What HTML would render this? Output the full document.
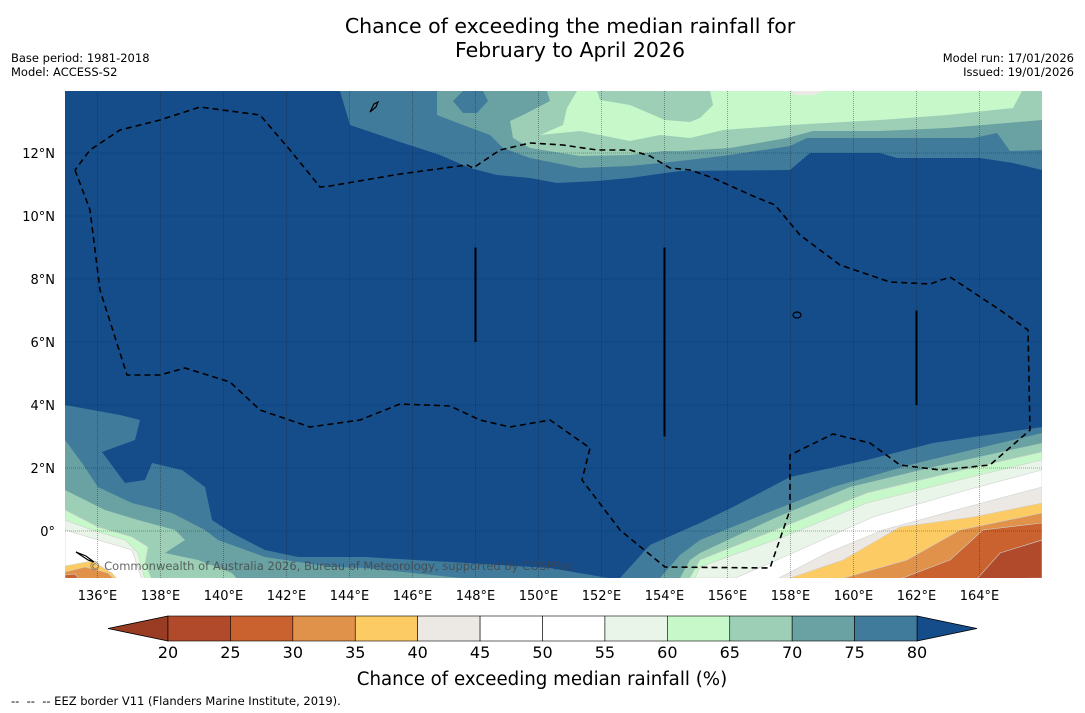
<!DOCTYPE html>
<html><head><meta charset="utf-8">
<style>
body{margin:0;background:#fff;font-family:"DejaVu Sans","Liberation Sans",sans-serif;}
#wrap{position:relative;width:1085px;height:713px;overflow:hidden;background:#fff}
.t{position:absolute;white-space:nowrap;color:#000}
</style></head><body>
<div id="wrap">
<div class="t" style="left:170px;width:800px;top:15px;text-align:center;font-size:20.5px;line-height:23.5px">Chance of exceeding the median rainfall for<br>February to April 2026</div>
<div class="t" style="left:11px;top:51px;font-size:11.5px;line-height:14px">Base period: 1981-2018<br>Model: ACCESS-S2</div>
<div class="t" style="right:11px;top:51px;font-size:11.5px;line-height:14px;text-align:right">Model run: 17/01/2026<br>Issued: 19/01/2026</div>
<div class="t" style="left:11px;top:694px;font-size:11.5px">--&nbsp; --&nbsp; -- EEZ border V11 (Flanders Marine Institute, 2019).</div>
<svg id="svg" width="1085" height="713" style="position:absolute;left:0;top:0"></svg>
</div>
<script>
const levels=[20,25,30,35,40,45,50,55,60,65,70,75,80];
const colors=["#b04a2a","#c9622f","#e0924a","#fdcb64","#ece9e4","#ffffff","#ffffff","#eaf5e9","#c6f8c9","#9dcfb7","#6aa1a2","#417b9b"];
const lowColor="#9a3c24", highColor="#154d8a";
const lonTicks=[136,138,140,142,144,146,148,150,152,154,156,158,160,162,164];
const latTicks=[0,2,4,6,8,10,12];
const FF='DejaVu Sans, Liberation Sans, sans-serif';
const NS="http://www.w3.org/2000/svg";
const svg=document.getElementById('svg');
const X=lon=>97.5+(lon-136)*31.5, Y=lat=>531-lat*31.5;
function mk(t,a,p){const e=document.createElementNS(NS,t);for(const k in a)e.setAttribute(k,a[k]);(p||svg).appendChild(e);return e;}
const P=a=>a.map(p=>p.join(',')).join(' ');
const defs=mk('defs',{});const cp=mk('clipPath',{id:'mc'},defs);mk('rect',{x:65,y:91,width:977,height:487},cp);
const g=mk('g',{'clip-path':'url(#mc)'});


mk('rect',{x:65,y:91,width:977,height:487,fill:highColor},g);
function poly(pts,col,name,stroke){const e=mk('polygon',{points:P(pts),fill:col,stroke:stroke||'none','stroke-width':0.6},g);

}
// top region
poly([[338,91],[340,91],[350,125],[397,141],[440,155],[470,168],[497,175],[530,178],[557,183],[597,181],[630,178],[680,171],[790,170],[810,153],[880,153],[897,158],[980,158],[1013,163],[1042,170],[1042,91]],colors[11],'contour-75-north');
poly([[437,91],[437,115],[463,125],[490,135],[503,148],[530,158],[580,168],[630,166],[680,161],[730,155],[790,146],[807,138],[853,138],[913,138],[973,138],[997,133],[1010,151],[1042,150],[1042,91]],colors[10],'contour-70-north');
poly([[453,101],[463,91],[483,91],[488,101],[477,113],[463,113]],colors[11],'contour-75-blob');
poly([[547,91],[550,101],[523,115],[510,121],[513,138],[530,148],[580,156],[630,155],[663,151],[680,151],[730,148],[787,138],[813,131],[880,131],[947,128],[1042,120],[1042,91]],colors[9],'contour-65-north');
poly([[577,91],[597,91],[600,100],[630,105],[665,120],[690,122],[700,118],[713,105],[710,91],[1022,91],[1013,108],[947,115],[880,120],[790,125],[723,130],[690,138],[660,135],[630,141],[580,131],[540,135],[563,125],[567,108]],colors[8],'contour-60-north');
poly([[790,91],[823,91],[815,95],[795,95]],colors[4],'contour-40-north');
// bottom right
const BR=[[1042,578]];
const br=[
 [[620,578],[650,545],[700,523],[733,507],[790,477],[867,460],[933,443],[1042,427]],
 [[660,578],[680,555],[700,540],[767,513],[833,487],[917,463],[1042,433]],
 [[680,578],[690,560],[700,553],[777,517],[850,487],[933,467],[1042,443]],
 [[690,578],[700,560],[783,527],[867,493],[950,473],[1042,452]],
 [[695,578],[700,567],[783,537],[867,503],[967,478],[1042,460]],
 [[733,579],[793,553],[873,517],[967,490],[1042,470]],
 [[777,579],[827,553],[883,530],[967,507],[1042,487]],
 [[787,579],[843,560],[900,527],[973,517],[1042,503]],
 [[840,579],[907,560],[960,530],[1042,513]],
 [[900,579],[950,560],[983,530],[1042,523]],
 [[977,579],[1000,553],[1042,540]]];
const brc=[11,10,9,8,7,5,4,3,2,1,0];
br.forEach((e,i)=>poly(e.concat(BR),colors[brc[i]],'contour-'+levels[brc[i]+1]+'-southeast',brc[i]<=8?'#cfcfcf':null));
// bottom left
const BL=[[65,578]];
const bl=[
 [[65,405],[120,415],[140,420],[135,440],[102,452],[125,483],[145,480],[152,463],[182,470],[205,487],[212,520],[232,533],[265,550],[298,557],[365,557],[450,562],[550,568],[620,580]],
 [[65,440],[82,463],[98,487],[132,503],[172,513],[205,530],[218,540],[265,557],[332,567],[365,568],[480,580]],
 [[65,490],[105,510],[138,520],[175,530],[185,540],[165,553],[198,560],[232,573],[238,580]],
 [[65,510],[98,527],[132,537],[148,547],[145,563],[152,580]],
 [[65,520],[92,530],[125,540],[138,553],[145,580]],
 [[65,530],[98,540],[132,550],[142,580]],
 [[65,566],[92,561],[112,573],[118,580]],
 [[65,572],[85,567],[108,573],[115,580]],
 [[65,575],[75,574],[80,580]]];
const blc=[11,10,9,8,7,5,3,2,1];
bl.forEach((e,i)=>poly(e.concat(BL),colors[blc[i]],'contour-'+levels[blc[i]+1]+'-southwest',blc[i]<=8?'#cfcfcf':null));
// grid
lonTicks.forEach(l=>{const e=mk('line',{x1:X(l),x2:X(l),y1:91,y2:578,stroke:'#222','stroke-opacity':0.5,'stroke-width':0.8,'stroke-dasharray':'1,1'},g);

});
latTicks.forEach(l=>{const e=mk('line',{x1:65,x2:1042,y1:Y(l),y2:Y(l),stroke:'#222','stroke-opacity':0.5,'stroke-width':0.8,'stroke-dasharray':'1,1'},g);

});
// EEZ
const eez=[[75,170],[90,210],[100,290],[127,375],[160,375],[185,368],[230,382],[260,410],[310,427],[360,420],[400,404],[450,406],[480,420],[510,427],[550,420],[590,448],[582,480],[620,530],[665,567],[770,568],[790,510],[790,455],[833,434],[870,443],[900,465],[940,470],[990,465],[1030,430],[1028,330],[1000,310],[950,277],[930,284],[890,282],[840,265],[800,235],[775,205],[753,196],[713,178],[690,170],[670,168],[650,156],[630,150],[597,150],[563,145],[530,143],[500,150],[473,168],[467,165],[400,174],[330,186],[320,187],[290,150],[260,115],[200,107],[160,120],[120,130],[90,150],[75,170]];
const ez=mk('polyline',{points:P(eez),fill:'none',stroke:'#000','stroke-width':1.6,'stroke-dasharray':'6,4'},g);


[[148,9,6],[154,9,3],[162,7,4]].forEach(a=>{const e=mk('line',{x1:X(a[0]),x2:X(a[0]),y1:Y(a[1]),y2:Y(a[2]),stroke:'#000','stroke-width':2},g);

});
mk('ellipse',{cx:797,cy:315,rx:4,ry:3,fill:'none',stroke:'#000','stroke-width':1.2},g);
mk('path',{d:'M370,112 l4,-8 l4,-2 l-2,5 z',fill:'none',stroke:'#000','stroke-width':1.2},g);
mk('path',{d:'M76,552 l10,4 l8,6 l-6,-2 z',fill:'none',stroke:'#000','stroke-width':1.2},g);
const cr=mk('text',{x:89,y:570,'font-size':11.5,fill:'#444','fill-opacity':0.8,'font-family':FF},g);
cr.textContent='© Commonwealth of Australia 2026, Bureau of Meteorology, supported by COSPPac';


// axis labels
lonTicks.forEach(l=>{const t=mk('text',{x:X(l),y:600,'text-anchor':'middle','font-size':13,'font-family':FF});t.textContent=l+'°E';

});
latTicks.forEach(l=>{const t=mk('text',{x:55,y:Y(l)+5,'text-anchor':'end','font-size':13,'font-family':FF});t.textContent=(l===0?'0°':l+'°N');

});
// colorbar
const cx0=168,cx1=917,cy=616,ch=25,sw=(cx1-cx0)/(levels.length-1);
const lt=mk('polygon',{points:P([[108,cy+ch/2],[cx0,cy],[cx0,cy+ch]]),fill:lowColor,stroke:'#000','stroke-width':0.8});


const ht=mk('polygon',{points:P([[977,cy+ch/2],[cx1,cy],[cx1,cy+ch]]),fill:highColor,stroke:'#000','stroke-width':0.8});


colors.forEach((c,i)=>{const r=mk('rect',{x:cx0+i*sw,y:cy,width:sw,height:ch,fill:c,stroke:'#000','stroke-width':0.6});

});
levels.forEach((v,i)=>{const t=mk('text',{x:cx0+i*sw,y:658,'text-anchor':'middle','font-size':16,'font-family':FF});t.textContent=v;

});
const cl=mk('text',{x:542,y:685,'text-anchor':'middle','font-size':18.2,'font-family':FF});cl.textContent='Chance of exceeding median rainfall (%)';


</script>
</body></html>
